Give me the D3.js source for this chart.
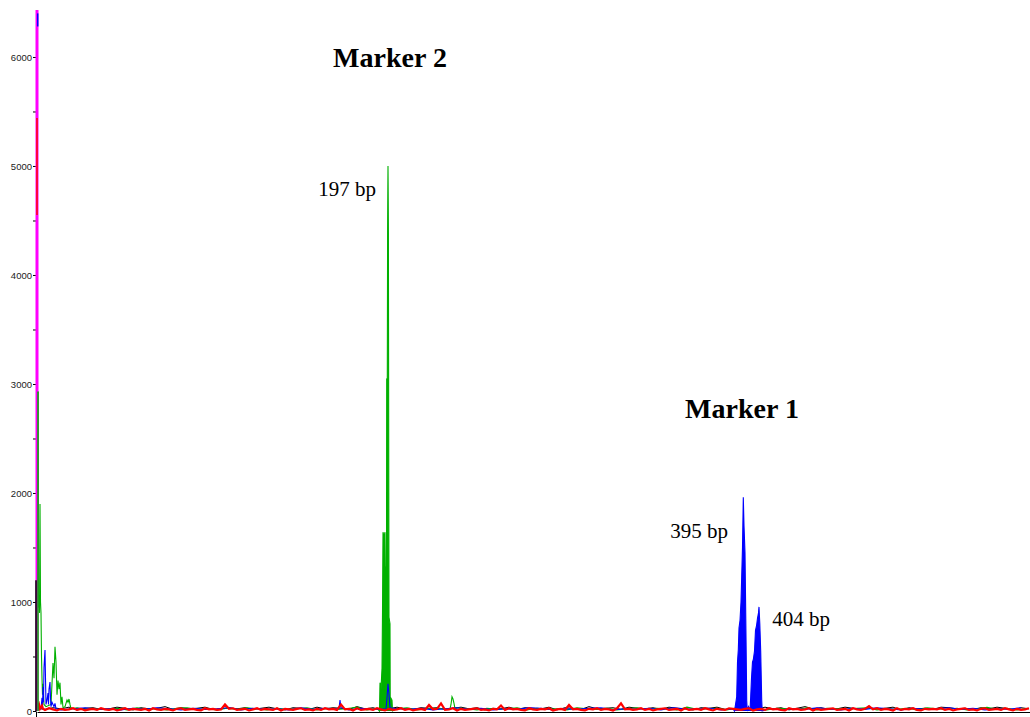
<!DOCTYPE html>
<html><head><meta charset="utf-8">
<script src="https://cdn.jsdelivr.net/npm/d3@7"></script>
<style>body{margin:0;background:#fff}svg{display:block}</style>
</head><body>
<svg id="c" width="1030" height="717"></svg>
<script>
// ---------- DATA (x = scan position, y = RFU) ----------
const yTicks = [0,500,1000,1500,2000,2500,3000,3500,4000,4500,5000,5500,6000];
const yMax = 6431;
const xMax = 993;

// baseline noise, one value every <step> scans
const redStep = 4;
const redNoise = [
 15,20,10,25,15,5,20,10,15,25,10,20,5,15,20,10,25,15,10,20,5,15,25,10,20,
 15,10,20,5,25,15,10,20,15,5,20,25,10,15,20,10,5,25,15,20,10,15,60,20,25,
 10,15,20,5,15,25,10,20,15,10,25,5,20,15,10,20,25,10,15,5,20,10,25,15,20,
 10,60,15,20,5,25,10,15,20,10,25,15,5,20,10,15,25,10,20,5,15,20,10,55,15,
 20,70,10,15,25,5,20,10,15,20,25,10,15,5,20,15,50,10,25,15,20,10,5,25,15,
 10,20,15,25,5,15,20,10,55,15,20,10,5,20,15,25,10,20,15,5,25,70,15,20,10,
 15,25,10,20,5,15,20,25,10,15,20,5,25,10,15,20,10,25,15,5,20,15,10,25,20,
 15,10,20,25,5,15,20,10,25,15,20,10,5,25,15,20,10,15,25,5,20,10,15,20,25,
 10,15,20,5,25,15,10,20,45,15,25,10,20,15,5,25,10,20,15,25,10,5,20,15,20,
 15,25,10,20,5,15,20,25,10,15,5,20,25,10,15,20,10,25,15,5,20,10,15,25,10];
const blackStep = 8;
const blackNoise = [
 25,15,30,20,35,10,25,30,15,20,35,25,10,30,20,25,40,15,30,20,25,35,15,20,30,
 20,30,15,25,35,20,10,30,25,15,35,20,30,25,15,40,20,30,10,25,35,20,15,30,25,
 30,15,25,35,20,30,10,25,20,35,15,30,25,20,35,10,30,25,15,40,20,25,30,15,35,
 25,20,30,15,35,25,20,10,30,25,35,15,20,30,25,15,35,20,30,10,25,40,20,30,15,
 20,35,25,15,30,20,25,35,10,30,20,25,15,35,30,20,25,15,30,20,35,25,10,30,20];
const greenStep = 10;
const greenNoise = [
 20,10,25,15,30,10,20,15,25,10,30,15,20,10,25,30,15,20,10,25,15,30,20,10,25,
 15,20,30,10,25,15,20,35,10,25,15,20,30,10,20,25,15,30,20,10,25,15,20,30,10,
 25,15,20,10,30,20,15,25,10,20,30,15,25,20,10,35,15,20,25,10,30,15,20,10,25,
 20,15,30,10,25,20,15,25,30,10,20,15,25,10,30,20,15,25,10,20,35,15,25,10,20];
const blueStep = 12;
const blueNoise = [
 15,25,10,20,30,15,20,10,25,15,30,20,10,25,15,20,30,10,25,15,20,10,30,15,25,
 20,10,25,15,30,20,15,25,10,20,30,15,25,10,20,15,30,25,10,20,15,25,30,10,20,
 15,25,10,30,20,15,25,10,20,30,15,25,10,20,15,30,20,10,25,15,30,20,10,25,15,
 20,30,15,25,10,20,15,30];

// small unfilled peaks [scan, RFU]
const greenPeaks = [
  [1,2930],[1.5,950],[2,1000],[2.5,900],[3,1900],[3.5,1000],[4,900],[4.5,500],[5,300],[5.5,150],[6,250],[7,60],[9,40],
  [14,60],[15,250],[16,440],[17,300],[18,590],[19,450],[20,150],[21,280],[22,200],[23,260],[24,60],[25,130],[26,30],[28,40],
  [30,100],[31,80],[32,110],[33,60],[34,20],
  [413,20],[414,60],[415,130],[416,110],[417,70],[418,20]
];
const bluePeaks = [
  [4,20],[5,120],[5.5,40],[6,220],[6.5,80],[7,400],[8,560],[8.5,300],[9,60],[10,100],[11,165],[11.5,60],[12,200],[13,265],[13.5,120],[14,40],[15,80],[16,60],[17,40],[18,70],[19,20],
  [302,20],[303,100],[304,30],
  [349,20],[350,120],[351,250],[352,150],[353,30]
];
const redPeaks = [[2,60],[3,20],[5,50],[6,20]];
const blackPeaks = [[351,60],[352,20]];

// marker peaks (drawn filled) [scan, RFU]
const marker2Green = [
  [342.5,0],[343,260],[344,200],[345,390],[345.5,900],[346,1640],[347,1600],[348,1640],[348.3,1320],[349.5,1320],
  [349.7,3050],[350.3,3050],[350.6,4390],[351,5000],[351.4,4390],[351.8,2000],[352,860],[353,800],[353.2,130],[355,100],[355.5,0]
];
const marker1Blue = [
  [697.5,0],[698,30],[699.7,130],[700.5,450],[701.3,560],[702,760],[703,830],[704,1000],[704.7,1230],[705.5,1500],[706.3,1960],
  [707,1700],[708,1450],[709,680],[709.7,100],[710.2,0],[711.5,40],[712.5,20],
  [713,0],[713.7,130],[714.5,300],[715.5,450],[716.3,470],[717.5,550],[718.5,740],[719.5,780],[720.5,850],[721.5,900],[722,955],
  [722.8,800],[723.7,550],[724.7,100],[725.2,0]
];

// saturated primer peak at the start
const primerDyes = ["magenta","red","blue","black","green"];
const primerLow = [0,4550,6280,0,0];
const primerHigh = [6431,5440,6400,1200,2930];
const primerScan = [0,0,0.7,-1,1];

// annotations
const labelText = ["Marker 2","Marker 1","197 bp","395 bp","404 bp"];
const labelScan = [353,705,310,662,764];
const labelRFU = [5911,2690,4729,1588,780];
const labelBold = [true,true,false,false,false];

// ---------- DRAW ----------
const svg = d3.select("#c");
const x = d3.scaleLinear().domain([0,xMax]).range([37,1030]);
const y = d3.scaleLinear().domain([0,yMax]).range([711,10]);
const dyeColor = {green:"#00b000",blue:"#0000ff",red:"#ff0000",black:"#000000",magenta:"#ff00ff"};

// axes
const ya = d3.axisLeft(y).tickValues(yTicks).tickFormat(d => d%1000===0 ? d : "").tickSize(3).tickSizeOuter(0);
const gy = svg.append("g").attr("transform","translate(36,0)").call(ya);
gy.selectAll("text").attr("font-family","Arial, 'Liberation Sans', sans-serif").attr("font-size",9.5).attr("fill","#222").attr("x",-4);
gy.select(".domain").attr("stroke","#000");
const xa = d3.axisBottom(x).tickValues([-1]).tickFormat("").tickSize(5).tickSizeOuter(0);
svg.append("g").attr("transform","translate(0,712)").call(xa).select(".domain").attr("stroke","#000");

function clusters(peaks){
  const ranges = [];
  let start = null, prev = null;
  peaks.forEach(p => {
    if (start === null) { start = p[0]; prev = p[0]; return; }
    if (p[0] - prev > 4) { ranges.push([start, prev]); start = p[0]; }
    prev = p[0];
  });
  if (start !== null) ranges.push([start, prev]);
  return ranges;
}
function buildTrace(noise, step, peaks){
  const ranges = clusters(peaks);
  const pts = [];
  noise.forEach((v,i) => {
    const sx = i*step;
    if (sx > xMax) return;
    if (ranges.some(r => sx >= r[0]-1 && sx <= r[1]+1)) return;
    pts.push([sx, v]);
  });
  peaks.forEach(p => pts.push(p));
  pts.sort((a,b) => a[0]-b[0]);
  return pts;
}

const line = d3.line().x(d => x(d[0])).y(d => y(d[1]));
const area = d3.area().x(d => x(d[0])).y0(y(0)).y1(d => y(d[1]));
const traces = [
  {dye:"black", pts: buildTrace(blackNoise, blackStep, blackPeaks), w:1, fill:null},
  {dye:"green", pts: buildTrace(greenNoise, greenStep, greenPeaks.concat(marker2Green)), w:1.1, fill:marker2Green},
  {dye:"blue", pts: buildTrace(blueNoise, blueStep, bluePeaks.concat(marker1Blue)), w:1.1, fill:marker1Blue},
  {dye:"red", pts: buildTrace(redNoise, redStep, redPeaks), w:2.2, fill:null}
];
traces.forEach(t => {
  if (t.fill) {
    svg.append("path").datum(t.fill).attr("d", area).attr("fill", dyeColor[t.dye]).attr("stroke","none");
  }
  svg.append("path").datum(t.pts).attr("d", line)
    .attr("fill","none").attr("stroke", dyeColor[t.dye]).attr("stroke-width", t.w)
    .attr("stroke-linejoin","miter");
});

// primer peak segments
primerDyes.forEach((dye,i) => {
  svg.append("line")
    .attr("x1", x(primerScan[i])).attr("x2", x(primerScan[i]))
    .attr("y1", y(primerLow[i])).attr("y2", y(primerHigh[i]))
    .attr("stroke", dyeColor[dye]).attr("stroke-width", dye==="magenta" ? 3 : 1.5);
});

// annotations
labelText.forEach((t,i) => {
  svg.append("text").text(t)
    .attr("x", x(labelScan[i])).attr("y", y(labelRFU[i]))
    .attr("text-anchor","middle")
    .attr("font-family","'Liberation Serif','Times New Roman',serif")
    .attr("font-size", labelBold[i] ? 28 : 21)
    .attr("font-weight", labelBold[i] ? "bold" : "normal")
    .attr("fill","#000");
});
</script>
</body></html>
